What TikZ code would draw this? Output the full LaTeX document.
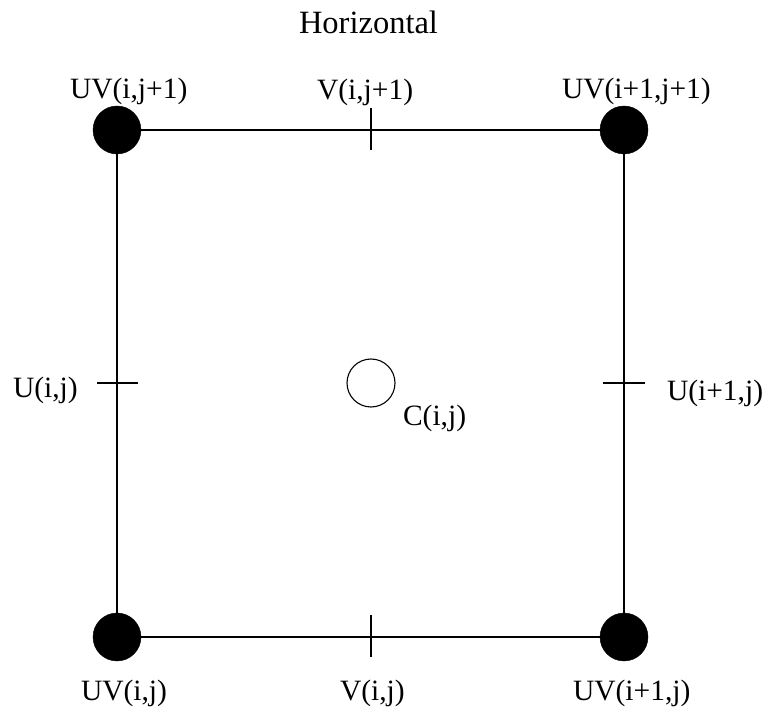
\documentclass[tikz,border=0pt]{standalone}
\usepackage{fontspec}
\setmainfont{Liberation Serif}
\begin{document}
\begin{tikzpicture}[x=1pt,y=-1pt,
  corner/.style={circle,fill=black,draw=black,inner sep=0pt,minimum size=48pt},
  center/.style={circle,draw=black,line width=1.1pt,inner sep=0pt,minimum size=48pt},
  edge/.style={line width=1.3pt},
  tick/.style={line width=1.6pt},
  lbl/.style={inner sep=0pt,outer sep=0pt,anchor=base west,font=\fontsize{29.5}{35}\selectfont},
  title/.style={inner sep=0pt,outer sep=0pt,anchor=base west,font=\fontsize{32.5}{38}\selectfont}]
\useasboundingbox (0,0) rectangle (764,708);
% nodes
\node[corner] (tl) at (117,130) {};
\node[corner] (tr) at (624,130) {};
\node[corner] (bl) at (117,637) {};
\node[corner] (br) at (624,637) {};
\node[center] (c) at (371,383) {};
% square
\draw[edge] (tl) -- (tr);
\draw[edge] (tr) -- (br);
\draw[edge] (br) -- (bl);
\draw[edge] (bl) -- (tl);
% ticks
\coordinate (tt1) at (371,108); \coordinate (tt2) at (371,150);
\coordinate (bt1) at (371,615); \coordinate (bt2) at (371,657);
\coordinate (lt1) at (97,383);  \coordinate (lt2) at (138,383);
\coordinate (rt1) at (603,383); \coordinate (rt2) at (645,383);
\draw[tick] (tt1) -- (tt2);
\draw[tick] (bt1) -- (bt2);
\draw[tick] (lt1) -- (lt2);
\draw[tick] (rt1) -- (rt2);
% labels
\node[title] (h) at (299,34) {Horizontal};
\node[lbl] (l1) at (70,99) {UV(i,j+1)};
\node[lbl] (l2) at (317,100) {V(i,j+1)};
\node[lbl] (l3) at (562,99) {UV(i+1,j+1)};
\node[lbl] (l4) at (13,398) {U(i,j)};
\node[lbl] (l5) at (667,401) {U(i+1,j)};
\node[lbl] (l6) at (403,426) {C(i,j)};
\node[lbl] (l7) at (81,700) {UV(i,j)};
\node[lbl] (l8) at (340,700) {V(i,j)};
\node[lbl] (l9) at (573,700) {UV(i+1,j)};
\end{tikzpicture}
\end{document}
